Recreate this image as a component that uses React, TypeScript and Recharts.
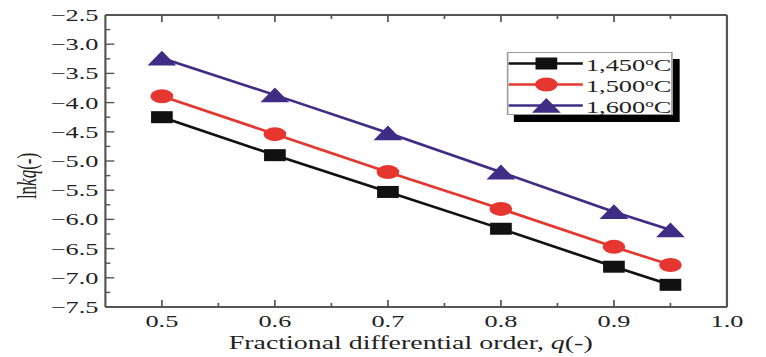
import React from "react";
import { Legend, Line, LineChart, XAxis, YAxis } from "recharts";

// values
const qOrder = [0.5, 0.6, 0.7, 0.8, 0.9, 0.95];
const lnk1450 = [-4.25, -4.9, -5.53, -6.16, -6.81, -7.12];
const lnk1500 = [-3.89, -4.54, -5.19, -5.82, -6.47, -6.78];
const lnk1600 = [-3.24, -3.87, -4.52, -5.19, -5.87, -6.18];

const seriesNames = ["1,450", "1,500", "1,600"];
const seriesKeys = ["t1450", "t1500", "t1600"];
const seriesColors = ["#111111", "#e5372f", "#3f2c85"];
const seriesMarkers = ["square", "circle", "triangle"];

const xTicks = [0.5, 0.55, 0.6, 0.65, 0.7, 0.75, 0.8, 0.85, 0.9, 0.95, 1.0];
const yTicks = [
  -7.5, -7.25, -7, -6.75, -6.5, -6.25, -6, -5.75, -5.5, -5.25, -5, -4.75, -4.5, -4.25, -4, -3.75, -3.5,
  -3.25, -3, -2.75, -2.5,
];

const data = qOrder.map((q, i) => ({ q, t1450: lnk1450[i], t1500: lnk1500[i], t1600: lnk1600[i] }));

// the source image is stretched sideways, so the chart is drawn narrow and scaled
const STRETCH = 1.55;
const W = 494;
const H = 357;
const FONT = "'Liberation Serif', 'Times New Roman', serif";
const AXIS = "#555";
const TXT = "#222";

const onGrid = (v: number, step: number) => Math.abs(v / step - Math.round(v / step)) < 1e-6;

function Marker({ kind, cx, cy, color }: { kind: string; cx: number; cy: number; color: string }) {
  if (kind === "square") return <rect x={cx - 7} y={cy - 6} width={14} height={12} fill={color} />;
  if (kind === "circle") return <ellipse cx={cx} cy={cy} rx={7.3} ry={7} fill={color} />;
  return <polygon points={`${cx},${cy - 7.5} ${cx + 9.3},${cy + 7.3} ${cx - 9.3},${cy + 7.3}`} fill={color} />;
}

function LeftTick(p: any) {
  const v = p.payload.value;
  const major = onGrid(v, 0.5);
  return (
    <g>
      <line x1={p.x} x2={p.x + (major ? 5.8 : 3.2)} y1={p.y} y2={p.y} stroke={AXIS} strokeWidth={1.4} />
      {major && (
        <text x={p.x - 4.5} y={p.y} dy="0.35em" textAnchor="end" fontSize={17} fill={TXT} fontFamily={FONT}>
          {v.toFixed(1).replace("-", "\u2212")}
        </text>
      )}
    </g>
  );
}

function RightTick(p: any) {
  const major = onGrid(p.payload.value, 0.5);
  return <line x1={p.x} x2={p.x - (major ? 5.8 : 3.2)} y1={p.y} y2={p.y} stroke={AXIS} strokeWidth={1.4} />;
}

function BottomTick(p: any) {
  const v = p.payload.value;
  const major = onGrid(v, 0.1);
  return (
    <g>
      <line x1={p.x} x2={p.x} y1={p.y} y2={p.y - (major ? 7 : 4)} stroke={AXIS} strokeWidth={1.1} />
      {major && (
        <text x={p.x} y={p.y + 20} textAnchor="middle" fontSize={17} fill={TXT} fontFamily={FONT}>
          {v.toFixed(1)}
        </text>
      )}
    </g>
  );
}

function TopTick(p: any) {
  const major = onGrid(p.payload.value, 0.1);
  return <line x1={p.x} x2={p.x} y1={p.y} y2={p.y + (major ? 7 : 4)} stroke={AXIS} strokeWidth={1.1} />;
}

function YTitle({ viewBox }: any) {
  const x = viewBox.x - 50;
  const y = viewBox.y + 161;
  return (
    <text x={x} y={y} transform={`rotate(-90 ${x} ${y})`} textAnchor="middle" dy="0.35em" fontSize={17} fill={TXT} fontFamily={FONT}>
      ln<tspan fontStyle="italic">kq</tspan>(-)
    </text>
  );
}

function XTitle({ viewBox }: any) {
  const x = 265;
  const y = viewBox.y + 42;
  return (
    <text x={x} y={y} textAnchor="middle" fontSize={18} fill={TXT} fontFamily={FONT}>
      Fractional differential order, <tspan fontStyle="italic">q</tspan>(-)
    </text>
  );
}

function LegendBox({ payload }: any) {
  return (
    <div
      style={{
        width: 107,
        height: 63,
        boxSizing: "border-box",
        border: "1px solid #999",
        background: "#fff",
        boxShadow: "4.5px 7px 0 #000",
      }}
    >
      {(payload || []).map((entry: any) => {
        const i = seriesNames.indexOf(entry.value);
        return (
          <div key={entry.value} style={{ display: "flex", alignItems: "center", height: 21 }}>
            <svg width={50} height={21} style={{ flex: "none" }}>
              <line x1={0} x2={48} y1={10.5} y2={10.5} stroke={seriesColors[i]} strokeWidth={2.5} />
              <Marker kind={seriesMarkers[i]} cx={24.5} cy={10.5} color={seriesColors[i]} />
            </svg>
            <span style={{ fontFamily: FONT, fontSize: 17, color: TXT, lineHeight: "21px", whiteSpace: "nowrap" }}>
              {entry.value}
              <span style={{ fontSize: 11, verticalAlign: 6 }}>o</span>C
            </span>
          </div>
        );
      })}
    </div>
  );
}

export default function App() {
  return (
    <div style={{ position: "absolute", left: 0, top: 0, width: 766, height: H, overflow: "hidden", background: "#fff" }}>
      <div style={{ width: W, height: H, transform: `scaleX(${STRETCH})`, transformOrigin: "0 0" }}>
        <LineChart width={W} height={H} data={data} margin={{ top: 14, right: 24, bottom: 49, left: 67 }}>
          <XAxis
            dataKey="q"
            type="number"
            domain={[0.45, 1.0]}
            ticks={xTicks}
            interval={0}
            height={1}
            tickSize={0}
            tickMargin={0}
            tickLine={false}
            tick={BottomTick}
            axisLine={{ stroke: AXIS, strokeWidth: 1.8 }}
            label={<XTitle />}
          />
          <XAxis
            xAxisId="top"
            orientation="top"
            dataKey="q"
            type="number"
            domain={[0.45, 1.0]}
            ticks={xTicks}
            interval={0}
            height={1}
            tickSize={0}
            tickMargin={0}
            tickLine={false}
            tick={TopTick}
            axisLine={{ stroke: AXIS, strokeWidth: 1.8 }}
          />
          <YAxis
            type="number"
            domain={[-7.5, -2.5]}
            ticks={yTicks}
            interval={0}
            width={1}
            tickSize={0}
            tickMargin={0}
            tickLine={false}
            tick={LeftTick}
            axisLine={{ stroke: AXIS, strokeWidth: 1.4 }}
            label={<YTitle />}
          />
          <YAxis
            yAxisId="right"
            orientation="right"
            type="number"
            domain={[-7.5, -2.5]}
            ticks={yTicks}
            interval={0}
            width={1}
            tickSize={0}
            tickMargin={0}
            tickLine={false}
            tick={RightTick}
            axisLine={{ stroke: AXIS, strokeWidth: 1.4 }}
          />
          <Legend
            layout="vertical"
            align="center"
            verticalAlign="middle"
            wrapperStyle={{ left: 327, top: 52, width: "auto" }}
            content={<LegendBox />}
          />
          {seriesKeys.map((key, i) => (
            <Line
              key={key}
              type="linear"
              dataKey={key}
              name={seriesNames[i]}
              stroke={seriesColors[i]}
              strokeWidth={2.5}
              isAnimationActive={false}
              dot={(p: any) => (
                <Marker key={`${key}-${p.index}`} kind={seriesMarkers[i]} cx={p.cx} cy={p.cy} color={seriesColors[i]} />
              )}
              activeDot={false}
            />
          ))}
        </LineChart>
      </div>
    </div>
  );
}
